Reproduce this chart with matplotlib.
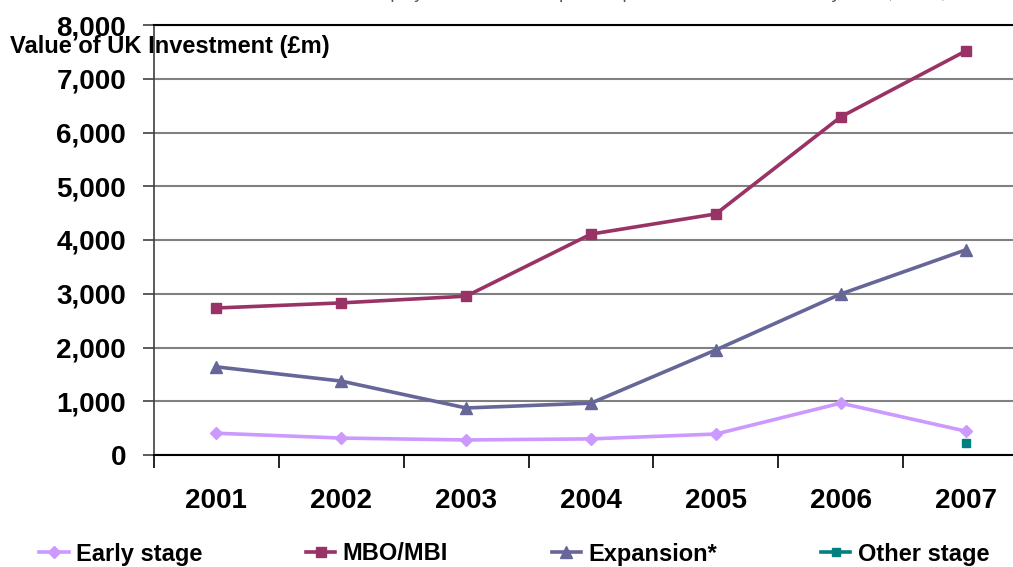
import matplotlib
matplotlib.use("Agg")
import matplotlib.pyplot as plt
import numpy as np

plt.rcParams['font.family'] = ['Liberation Sans', 'DejaVu Sans']

years = ['2001', '2002', '2003', '2004', '2005', '2006', '2007']
early = [405, 315, 280, 300, 390, 965, 445]
mbo = [2735, 2830, 2955, 4110, 4485, 6290, 7515]
expansion = [1640, 1375, 875, 965, 1955, 2995, 3815]
other = [np.nan, np.nan, np.nan, np.nan, np.nan, np.nan, 225]

W, H = 1013, 567
fig = plt.figure(figsize=(W / 100, H / 100), dpi=100)
ax = fig.add_axes([154 / W, 1 - 455 / H, (1028 - 154) / W, (455 - 25) / H])

x = np.arange(len(years)) + 0.5

ax.plot(x, early, color='#CC99FF', lw=2.6, marker='D', ms=6, label='Early stage', zorder=3)
ax.plot(x, mbo, color='#993366', lw=2.6, marker='s', ms=6.5, label='MBO/MBI', zorder=3)
ax.plot(x, expansion, color='#666699', lw=2.6, marker='^', ms=8, label='Expansion*', zorder=3)
ax.plot(x, other, color='#008080', lw=2.6, marker='s', ms=6, label='Other stage', zorder=3)

ax.set_xlim(0, 7)
ax.set_ylim(0, 8000)
ax.set_yticks(np.arange(0, 8001, 1000))
ax.set_yticklabels(['{:,}'.format(v) for v in range(0, 8001, 1000)],
                   fontsize=20, fontweight='bold')
ax.set_xticks(np.arange(0, 8))
ax.set_xticklabels([])
ax.set_xticks(x, minor=True)
ax.set_xticklabels(years, minor=True, fontsize=20, fontweight='bold')
ax.tick_params(axis='x', which='minor', length=0, pad=24)
ax.tick_params(axis='x', which='major', length=9, width=1.2, direction='out', color='black')
ax.tick_params(axis='y', length=8, width=1.2, direction='out', pad=12, color='#404040')

ax.yaxis.grid(True, color='#808080', lw=1.5)
ax.set_axisbelow(True)
ax.spines['top'].set_color('black')
ax.spines['top'].set_linewidth(1.5)
ax.spines['right'].set_visible(False)
ax.spines['left'].set_color('#404040')
ax.spines['left'].set_linewidth(1.2)
ax.spines['bottom'].set_color('black')
ax.spines['bottom'].set_linewidth(1.5)

fig.text(10 / W, 1 - 47 / H, 'Value of UK Investment (£m)', fontsize=17,
         fontweight='bold', ha='left', va='center')
fig.text(183 / W, 1 + 2 / H,
         'Source: BVCA Private Equity and Venture Capital Report on Investment Activity 2005, 2006, 2007',
         fontsize=13.5, color='#555555', ha='left', va='baseline')

fig.legend(loc='center left', bbox_to_anchor=(39 / W, 1 - 554 / H), ncol=4,
           frameon=False, borderpad=0, borderaxespad=0, handlelength=1.25,
           handletextpad=0.3, columnspacing=4.4,
           prop={'size': 17, 'weight': 'bold'})

fig.savefig('out.png', dpi=100)
